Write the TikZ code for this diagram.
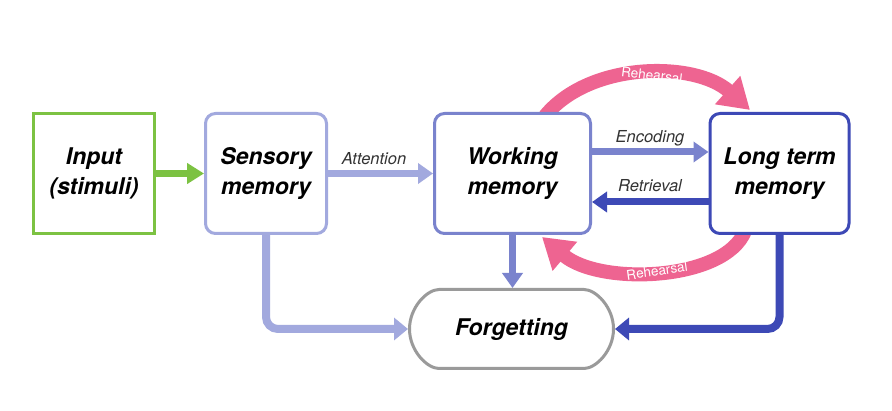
\documentclass[tikz,border=0pt]{standalone}
\usepackage{fontspec}
\setmainfont{TeX Gyre Heros}
\usetikzlibrary{arrows.meta,shapes.misc}
\definecolor{cgreen}{HTML}{7CC242}
\definecolor{csens}{HTML}{A2A9DE}
\definecolor{cwork}{HTML}{7A83CD}
\definecolor{cltm}{HTML}{3D49B6}
\definecolor{cpink}{HTML}{EE6491}
\definecolor{cgray}{HTML}{9A9A9A}
\begin{document}
\begin{tikzpicture}[x=1pt,y=-1pt,
 box/.style={draw,line width=3pt,fill=white,rounded corners=10pt,align=center,
   font=\fontsize{23}{30}\selectfont\bfseries\itshape,inner sep=0pt},
 lbl/.style={font=\fontsize{16.5}{18}\selectfont\itshape,text=black!80,inner sep=0pt},
 arr/.style={line width=7pt,-{Triangle[length=15pt,width=20pt]}},
 farr/.style={line width=8pt,rounded corners=12pt,-{Triangle[length=14pt,width=22pt]}},
 reh/.style={line width=14pt,cpink,-{Triangle[length=30pt,width=36pt]}},
 rehl/.style={font=\fontsize{13.5}{14}\selectfont,text=white,inner sep=0pt}]
\useasboundingbox[fill=white] (0,0) rectangle (892,411);

% rehearsal arcs (behind boxes)
\coordinate (rtS) at (545,116);
\coordinate (rtE) at (750,110);
\coordinate (rbS) at (745,231);
\coordinate (rbE) at (542,237);
\draw[reh] (rtS) .. controls (590,61) and (695,61) .. (rtE);
\draw[reh] (rbS) .. controls (725,281) and (600,286) .. (rbE);

% boxes
\node[box,sharp corners,draw=cgreen,minimum width=121pt,minimum height=120pt] (input) at (94,173.5) {Input\\(stimuli)};
\node[box,draw=csens,minimum width=121pt,minimum height=120pt] (sensory) at (266,173.5) {Sensory\\memory};
\node[box,draw=cwork,minimum width=156pt,minimum height=120pt] (working) at (512.5,173.5) {Working\\memory};
\node[box,draw=cltm,minimum width=139pt,minimum height=120pt] (ltm) at (779.5,173.5) {Long term\\memory};
\node[box,rounded rectangle,draw=cgray,minimum width=204pt,minimum height=79pt] (forget) at (511.5,329) {Forgetting};

% rehearsal labels
\node[rehl,rotate=-7] (rl1) at (652,75) {Rehearsal};
\node[rehl,rotate=8] (rl2) at (657,271) {Rehearsal};

% horizontal connectors
\coordinate (encY) at (0,152);
\coordinate (retY) at (0,202);
\draw[arr,line width=6.5pt,cgreen,-{Triangle[length=17pt,width=20pt]}] (input) -- (sensory);
\draw[arr,csens] (sensory) -- (working);
\draw[arr,cwork] (working.east |- encY) -- (ltm.west |- encY);
\draw[arr,cltm] (ltm.west |- retY) -- (working.east |- retY);

% edge labels
\node[lbl] (latt) at (374,159) {Attention};
\node[lbl] (lenc) at (650,138) {Encoding};
\node[lbl] (lret) at (650,186) {Retrieval};

% forgetting connectors
\draw[farr,csens] (sensory.south) |- (forget.west);
\draw[arr,cwork] (working.south) -- (working.south |- forget.north);
\draw[farr,cltm] (ltm.south) |- (forget.east);
\end{tikzpicture}
\end{document}
